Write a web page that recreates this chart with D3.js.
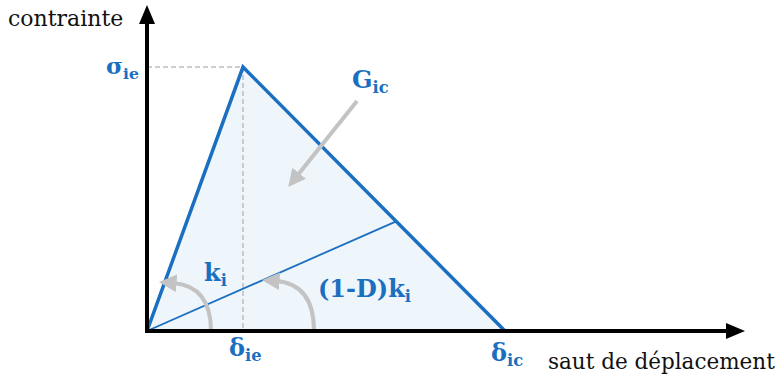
<!DOCTYPE html>
<html>
<head>
<meta charset="utf-8">
<script src="https://cdn.jsdelivr.net/npm/d3@7"></script>
<style>
  body { margin: 0; background: #fff; }
  svg { display: block; }
  text { font-family: "DejaVu Serif", "Liberation Serif", serif; }
</style>
</head>
<body>
<svg id="chart" width="784" height="386"></svg>
<script>
// loi cohésive bilinéaire (valeurs normalisées)
const deltaIe = 1;
const deltaIc = 3.73;
const sigmaIe = 1;
const damage = 0.84;
const axisExtent = [6.23, 1.235];
const axisLabels = ["saut de déplacement", "contrainte"];
const tickLabels = [
    { main: "δ", sub: "ie", axis: "x", value: deltaIe },
    { main: "δ", sub: "ic", axis: "x", value: deltaIc },
    { main: "σ", sub: "ie", axis: "y", value: sigmaIe }
];

const blue = "#1a6fc0";
const grey = "#c3c3c3";

const svg = d3.select("#chart");
const origin = { x: 147, y: 331 };

const x = d3.scaleLinear().domain([0, axisExtent[0]]).range([origin.x, 745]);
const y = d3.scaleLinear().domain([0, axisExtent[1]]).range([origin.y, 5]);

const defs = svg.append("defs");
defs.append("marker")
    .attr("id", "grey-head")
    .attr("viewBox", "0 0 10 10")
    .attr("refX", 2).attr("refY", 5)
    .attr("markerWidth", 4.4).attr("markerHeight", 4.4)
    .attr("orient", "auto")
    .append("path").attr("d", "M0,0L10,5L0,10Z").attr("fill", grey);

// surface Gic
const triangle = [[0, 0], [deltaIe, sigmaIe], [deltaIc, 0]];
svg.append("path")
    .attr("d", d3.line().x(d => x(d[0])).y(d => y(d[1]))(triangle) + "Z")
    .attr("fill", "#eef5fb")
    .attr("stroke", "none");

// pointillés
svg.append("path")
    .attr("d", `M${x(0)},${y(sigmaIe)}H${x(deltaIe)}V${y(0)}`)
    .attr("fill", "none")
    .attr("stroke", "#bdbdbd")
    .attr("stroke-width", 1.5)
    .attr("stroke-dasharray", "5,3");

// raideur endommagée
const k = sigmaIe / deltaIe;
const kd = (1 - damage) * k;
const xEnd = sigmaIe * deltaIc / (kd * (deltaIc - deltaIe) + sigmaIe);
svg.append("line")
    .attr("x1", x(0)).attr("y1", y(0))
    .attr("x2", x(xEnd)).attr("y2", y(kd * xEnd))
    .attr("stroke", blue)
    .attr("stroke-width", 1.8);

// loi
svg.append("path")
    .attr("d", d3.line().x(d => x(d[0])).y(d => y(d[1]))(triangle))
    .attr("fill", "none")
    .attr("stroke", blue)
    .attr("stroke-width", 3.5)
    .attr("stroke-linejoin", "miter");

// flèches grises
const arcs = [
    [[211, 331], [211, 286], [173, 283]],
    [[314, 331], [314, 284], [276, 281]]
];
arcs.forEach(a => {
    svg.append("path")
        .attr("d", `M${a[0][0]},${a[0][1]}Q${a[1][0]},${a[1][1]} ${a[2][0]},${a[2][1]}`)
        .attr("fill", "none")
        .attr("stroke", grey)
        .attr("stroke-width", 4)
        .attr("marker-end", "url(#grey-head)");
});
svg.append("line")
    .attr("x1", 357).attr("y1", 101)
    .attr("x2", 297).attr("y2", 176)
    .attr("stroke", grey)
    .attr("stroke-width", 4)
    .attr("marker-end", "url(#grey-head)");

// axes
svg.append("line")
    .attr("x1", origin.x).attr("y1", origin.y + 2)
    .attr("x2", origin.x).attr("y2", y(axisExtent[1]) + 16)
    .attr("stroke", "#000").attr("stroke-width", 4);
svg.append("path")
    .attr("d", `M${origin.x},${y(axisExtent[1])}l-8,19h16Z`)
    .attr("fill", "#000");
svg.append("line")
    .attr("x1", origin.x - 2).attr("y1", origin.y)
    .attr("x2", x(axisExtent[0]) - 16).attr("y2", origin.y)
    .attr("stroke", "#000").attr("stroke-width", 4);
svg.append("path")
    .attr("d", `M${x(axisExtent[0])},${origin.y}l-19,-8v16Z`)
    .attr("fill", "#000");

svg.append("text")
    .attr("x", 8).attr("y", 26)
    .attr("font-family", "DejaVu Serif")
    .attr("font-size", 22)
    .attr("fill", "#111")
    .text(axisLabels[1]);
svg.append("text")
    .attr("x", 548).attr("y", 369)
    .attr("font-family", "DejaVu Serif")
    .attr("font-size", 21.5)
    .attr("fill", "#111")
    .text(axisLabels[0]);

// étiquettes bleues
const blueText = (tx, ty, main, sub, size) => {
    const t = svg.append("text")
        .attr("x", tx).attr("y", ty)
        .attr("font-size", size)
        .attr("font-weight", "bold")
        .attr("fill", blue);
    t.append("tspan").text(main);
    if (sub) t.append("tspan").attr("dy", 5).attr("font-size", size * 0.68).text(sub);
    return t;
};

tickLabels.forEach(d => {
    if (d.axis === "x") blueText(x(d.value) - 14, d.value === deltaIe ? 356 : 361, d.main, d.sub, 24);
    else blueText(106, y(d.value) + 7, d.main, d.sub, 23);
});
blueText(352, 88, "G", "ic", 24);
blueText(204, 281, "k", "i", 24);
blueText(318, 297, "(1-D)k", "i", 24);
</script>
</body>
</html>
